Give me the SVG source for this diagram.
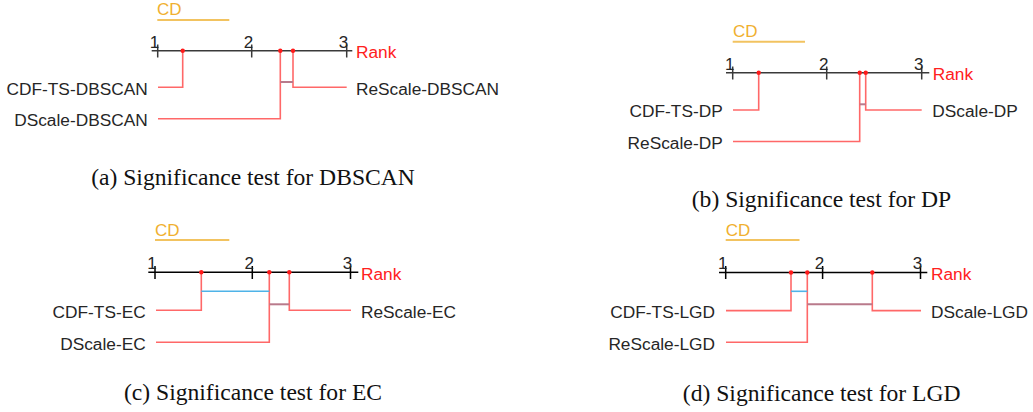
<svg xmlns="http://www.w3.org/2000/svg" width="1033" height="412" viewBox="0 0 1033 412">
<style>
text{font-family:"Liberation Sans",Arial,sans-serif}
.lbl{font-size:17.3px;fill:#262626}
.tick{font-size:17px;fill:#262626;text-anchor:middle}
.rank{font-size:17.3px;fill:#ff2020}
.cdt{font-size:17px;fill:#f0b030}
.cdl{stroke:#f2c360;stroke-width:2;fill:none}
.axis{stroke:#3a3a3a;stroke-width:1.5;fill:none}
.axisk{stroke:#000;stroke-width:1.5;fill:none}
.ln{stroke:#ff4d4d;stroke-opacity:0.85;stroke-width:1.6;fill:none}
.gb{stroke:#b97a8b;stroke-width:2;fill:none}
.bb{stroke:#4fb3e8;stroke-width:1.6;fill:none}
.dot{fill:#ff1a1a}
.cap{font-family:"Liberation Serif","Times New Roman",serif;font-size:23.6px;fill:#111;text-anchor:middle}
.end{text-anchor:end}
</style>

<g id="panel-a">
  <text class="cdt" x="157" y="15">CD</text>
  <line class="cdl" x1="157.3" y1="20" x2="229.3" y2="20"/>
  <line class="axis" x1="151.7" y1="50.7" x2="352.3" y2="50.7"/>
  <path class="axis" d="M157.7 44.5V57.5M251.7 44.5V57.5M346.7 44.5V57.5"/>
  <text class="tick" x="154.5" y="47.5">1</text>
  <text class="tick" x="248.5" y="47.5">2</text>
  <text class="tick" x="343.5" y="47.5">3</text>
  <text class="rank" x="356" y="58">Rank</text>
  <g id="connectors-a">
    <path class="ln" d="M182.7 50.7V87.2H158"/>
    <path class="ln" d="M280.3 50.7V118.8H158"/>
    <path class="ln" d="M293 50.7V87.2H346.7"/>
    <line class="gb" x1="280.3" y1="82" x2="293" y2="82"/>
  </g>
  <circle class="dot" cx="182.7" cy="50.7" r="2.2"/>
  <circle class="dot" cx="280.3" cy="50.7" r="2.2"/>
  <circle class="dot" cx="293" cy="50.7" r="2.2"/>
  <g id="node-a-cdfts"><text class="lbl end" x="147.7" y="94.5">CDF-TS-DBSCAN</text></g>
  <g id="node-a-dscale"><text class="lbl end" x="147.7" y="126">DScale-DBSCAN</text></g>
  <g id="node-a-rescale"><text class="lbl" x="356" y="94.5">ReScale-DBSCAN</text></g>
  <text class="cap" x="253" y="185">(a) Significance test for DBSCAN</text>
</g>

<g id="panel-b">
  <text class="cdt" x="733" y="37">CD</text>
  <line class="cdl" x1="732.7" y1="41.7" x2="805" y2="41.7"/>
  <line class="axis" x1="726" y1="72.7" x2="929.3" y2="72.7"/>
  <path class="axis" d="M732.7 66.5V79.5M826.7 66.5V79.5M921.7 66.5V79.5"/>
  <text class="tick" x="729.7" y="69.5">1</text>
  <text class="tick" x="823.7" y="69.5">2</text>
  <text class="tick" x="918.7" y="69.5">3</text>
  <text class="rank" x="932.7" y="80">Rank</text>
  <g id="connectors-b">
    <path class="ln" d="M758.7 72.7V110H733"/>
    <path class="ln" d="M859.7 72.7V141.5H733"/>
    <path class="ln" d="M865.7 72.7V110H921.7"/>
    <line class="gb" x1="859.7" y1="104.3" x2="865.7" y2="104.3"/>
  </g>
  <circle class="dot" cx="758.7" cy="72.7" r="2.2"/>
  <circle class="dot" cx="859.7" cy="72.7" r="2.2"/>
  <circle class="dot" cx="865.7" cy="72.7" r="2.2"/>
  <g id="node-b-cdfts"><text class="lbl end" x="722.7" y="117.3">CDF-TS-DP</text></g>
  <g id="node-b-rescale"><text class="lbl end" x="722.7" y="148.6">ReScale-DP</text></g>
  <g id="node-b-dscale"><text class="lbl" x="932.3" y="117.3">DScale-DP</text></g>
  <text class="cap" x="821.5" y="207">(b) Significance test for DP</text>
</g>

<g id="panel-c">
  <text class="cdt" x="155" y="236">CD</text>
  <line class="cdl" x1="155" y1="240" x2="229.3" y2="240"/>
  <line class="axisk" x1="148.3" y1="272.3" x2="358.3" y2="272.3"/>
  <path class="axisk" d="M155 266V279M252.3 266V279M350.5 266V279"/>
  <text class="tick" x="152" y="269">1</text>
  <text class="tick" x="249.3" y="269">2</text>
  <text class="tick" x="347.5" y="269">3</text>
  <text class="rank" x="361" y="280">Rank</text>
  <g id="connectors-c">
    <path class="ln" d="M201.3 272.3V310.3H156"/>
    <path class="ln" d="M269.3 272.3V342.3H156"/>
    <path class="ln" d="M289.3 272.3V310.3H351"/>
    <line class="bb" x1="201.3" y1="291.3" x2="269.3" y2="291.3"/>
    <line class="gb" x1="269.3" y1="304.3" x2="289.3" y2="304.3"/>
  </g>
  <circle class="dot" cx="201.3" cy="272.3" r="2.2"/>
  <circle class="dot" cx="269.3" cy="272.3" r="2.2"/>
  <circle class="dot" cx="289.3" cy="272.3" r="2.2"/>
  <g id="node-c-cdfts"><text class="lbl end" x="145.7" y="317.5">CDF-TS-EC</text></g>
  <g id="node-c-dscale"><text class="lbl end" x="145.7" y="349.5">DScale-EC</text></g>
  <g id="node-c-rescale"><text class="lbl" x="361" y="317.5">ReScale-EC</text></g>
  <text class="cap" x="253" y="400">(c) Significance test for EC</text>
</g>

<g id="panel-d">
  <text class="cdt" x="725.7" y="236">CD</text>
  <line class="cdl" x1="725.7" y1="240" x2="799.5" y2="240"/>
  <line class="axisk" x1="719" y1="272.5" x2="927.3" y2="272.5"/>
  <path class="axisk" d="M725.7 266V279M822.6 266V279M920.5 266V279"/>
  <text class="tick" x="722.7" y="269">1</text>
  <text class="tick" x="819.6" y="269">2</text>
  <text class="tick" x="917.5" y="269">3</text>
  <text class="rank" x="931" y="280">Rank</text>
  <g id="connectors-d">
    <path class="ln" d="M791 272.5V310.6H726"/>
    <path class="ln" d="M807.3 272.5V342.3H726"/>
    <path class="ln" d="M872.3 272.5V310.6H921"/>
    <line class="bb" x1="791" y1="291.3" x2="807.3" y2="291.3"/>
    <line class="gb" x1="807.3" y1="304.2" x2="872.3" y2="304.2"/>
  </g>
  <circle class="dot" cx="791" cy="272.5" r="2.2"/>
  <circle class="dot" cx="807.3" cy="272.5" r="2.2"/>
  <circle class="dot" cx="872.3" cy="272.5" r="2.2"/>
  <g id="node-d-cdfts"><text class="lbl end" x="715" y="317.5">CDF-TS-LGD</text></g>
  <g id="node-d-rescale"><text class="lbl end" x="715" y="349.5">ReScale-LGD</text></g>
  <g id="node-d-dscale"><text class="lbl" x="931" y="317.5">DScale-LGD</text></g>
  <text class="cap" x="821.7" y="401">(d) Significance test for LGD</text>
</g>
</svg>
